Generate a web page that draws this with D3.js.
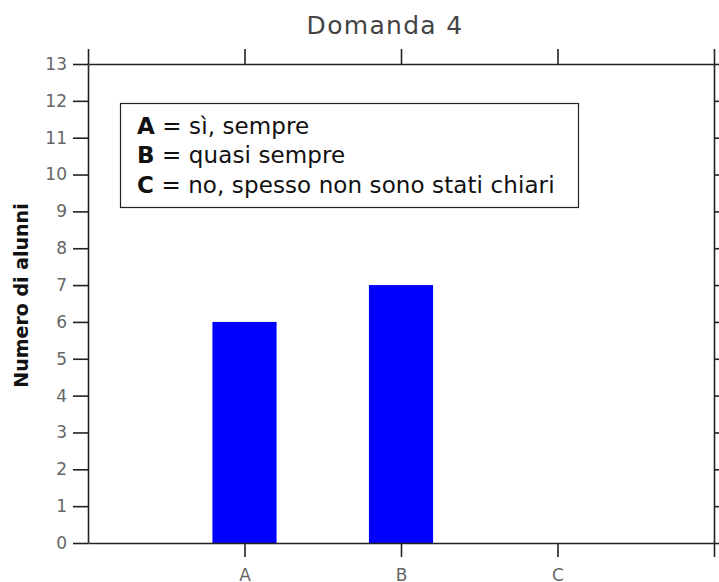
<!DOCTYPE html>
<html><head><meta charset="utf-8">
<script src="https://cdn.jsdelivr.net/npm/d3@7"></script>
<style>body{margin:0;background:#fff;} svg{display:block;font-family:"DejaVu Sans",sans-serif;}</style>
</head><body>
<svg id="c" width="719" height="582"></svg>
<script>
const title = "Domanda 4";
const yLabel = "Numero di alunni";
const categories = ["A", "B", "C"];
const values = [6, 7, 0];
const yTicks = [0,1,2,3,4,5,6,7,8,9,10,11,12,13];
const legendKeys = ["A", "B", "C"];
const legendTexts = [" = sì, sempre", " = quasi sempre", " = no, spesso non sono stati chiari"];

const svg = d3.select("#c");
const L = 88, R = 714, T = 64, B = 543;
const x = d3.scaleLinear().domain([0, categories.length + 1]).range([L, R]);
const y = d3.scaleLinear().domain([0, 13]).range([B, T]);
const barW = 0.41;

// bars
svg.append("g").selectAll("rect").data(values).join("rect")
  .attr("x", (d,i) => x(i + 1 - barW/2))
  .attr("width", x(barW) - x(0))
  .attr("y", d => y(d))
  .attr("height", d => y(0) - y(d))
  .attr("fill", "#0000ff");

const axStroke = "#222";
// left axis
const gL = svg.append("g").attr("transform", `translate(${L},0)`)
  .call(d3.axisLeft(y).tickValues(yTicks).tickSize(15).tickPadding(6).tickSizeOuter(0));
// right axis
const gR = svg.append("g").attr("transform", `translate(${R},0)`)
  .call(d3.axisRight(y).tickValues(yTicks).tickSize(15).tickFormat("").tickSizeOuter(0));
// bottom axis
const xTickVals = [1, 2, 3, 4];
const gB = svg.append("g").attr("transform", `translate(0,${B})`)
  .call(d3.axisBottom(x).tickValues(xTickVals).tickSize(14).tickPadding(12)
    .tickFormat(d => categories[d-1] || "").tickSizeOuter(0));
// top axis
const gT = svg.append("g").attr("transform", `translate(0,${T})`)
  .call(d3.axisTop(x).tickValues([0,1,2,3,4]).tickSize(15).tickFormat("").tickSizeOuter(0));

[gL, gR, gB, gT].forEach(g => {
  g.selectAll(".domain").attr("stroke", axStroke).attr("stroke-width", 1.6);
  g.selectAll(".tick line").attr("stroke", axStroke).attr("stroke-width", 1.6);
  g.selectAll(".tick text").attr("fill", "#666").attr("font-size", 17)
    .attr("font-family", "DejaVu Sans");
});

// title
svg.append("text").attr("x", 385).attr("y", 33.5).attr("text-anchor", "middle")
  .attr("font-size", 25).attr("letter-spacing", 1.3).attr("fill", "#444").text(title);

// y label
svg.append("text").attr("transform", `translate(28,${(T+B)/2 - 8}) rotate(-90)`)
  .attr("text-anchor", "middle").attr("font-size", 19).attr("font-weight", "bold")
  .attr("fill", "#111").text(yLabel);

// legend
svg.append("rect").attr("x", 120.5).attr("y", 103.5).attr("width", 458).attr("height", 104)
  .attr("fill", "#fff").attr("stroke", "#222").attr("stroke-width", 1.2);
const lg = svg.append("g");
legendKeys.forEach((k, i) => {
  const t = lg.append("text").attr("x", 137).attr("y", 134 + i * 29.3)
    .attr("font-size", 23).attr("letter-spacing", 0.1).attr("fill", "#111");
  t.append("tspan").attr("font-weight", "bold").text(k);
  t.append("tspan").text(legendTexts[i]);
});
</script>
</body></html>
